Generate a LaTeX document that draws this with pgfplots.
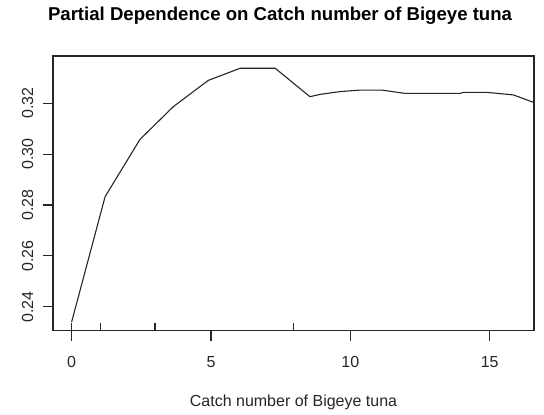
\documentclass[border=0pt]{standalone}
\usepackage{pgfplots}
\pgfplotsset{compat=1.18}
\usepackage{fontspec}
\setmainfont{Liberation Sans}
\begin{document}
\begin{tikzpicture}
\useasboundingbox (0,0) rectangle (544bp,415bp);
\begin{axis}[
  at={(53bp,84.3bp)}, anchor=south west,
  scale only axis, width=481bp, height=274.7bp,
  xmin=-0.67, xmax=16.59, ymin=0.2306, ymax=0.3386,
  axis line style={line width=1.1bp, black!85},
  xtick={0,5,10,15},
  ytick={0.24,0.26,0.28,0.30,0.32},
  tick align=outside, major tick length=10.5bp,
  tick style={line width=1.1bp, black!85},
  xtick pos=bottom, ytick pos=left,
  /pgf/number format/assume math mode=true,
  yticklabel={\pgfmathprintnumber[fixed,precision=2,fixed zerofill]{\tick}},
  tick label style={font=\fontsize{16bp}{19bp}\selectfont, text=black!85, inner sep=0pt},
  xticklabel style={anchor=base},
  yticklabel style={rotate=90, anchor=base},
  xticklabel shift=25.8bp,
  yticklabel shift=9.5bp,
  title={Partial Dependence on Catch number of Bigeye tuna},
  title style={font=\fontsize{18.6bp}{22bp}\selectfont\bfseries, anchor=base, at={(0.472,1)}, yshift=30bp, inner sep=0pt},
  xlabel={Catch number of Bigeye tuna},
  xlabel style={font=\fontsize{16bp}{19bp}\selectfont, text=black!85, at={(0.5,0)}, anchor=base, yshift=-75.3bp, inner sep=0pt},
]
\addplot[line width=1.1bp, black!85, no marks] coordinates {
(0,0.2341) (1.2,0.2833) (2.45,0.3058) (3.65,0.3187) (4.9,0.3290)
(6.05,0.3338) (7.3,0.3338) (8.55,0.3226) (8.91,0.3235) (9.63,0.3246)
(10.35,0.3252) (11.13,0.3252) (11.96,0.3239) (13.94,0.3239) (14.06,0.3243)
(14.9,0.3243) (15.85,0.3233) (16.59,0.3203)
};
\addplot[only marks, mark=|, mark size=4bp, line width=1.1bp, black!85] coordinates {
(0,0.2322) (1.02,0.2322) (2.99,0.2322) (7.95,0.2322)
};
\end{axis}
\end{tikzpicture}
\end{document}
